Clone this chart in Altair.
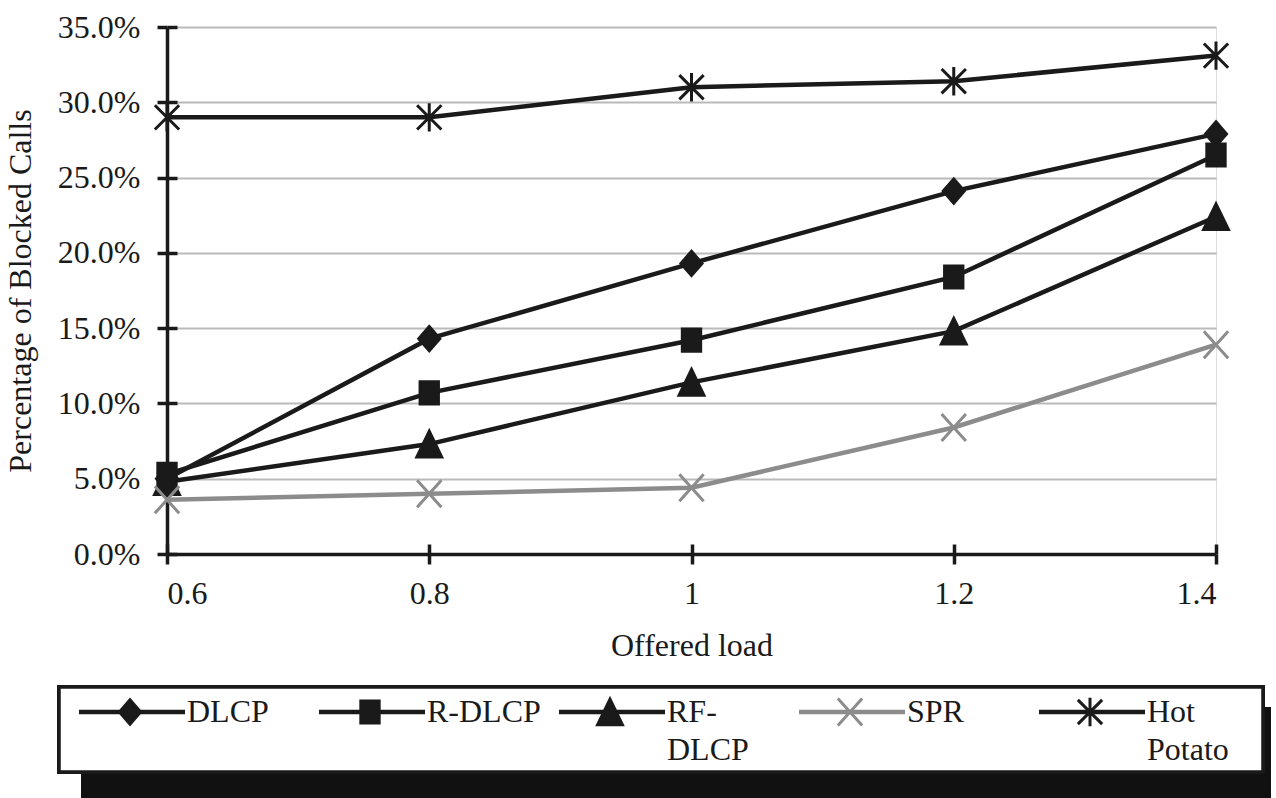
import altair as alt
import pandas as pd

# ---- data ----
loads = [0.6, 0.8, 1.0, 1.2, 1.4]
series_names = ["DLCP", "R-DLCP", "RF-DLCP", "SPR", "Hot Potato"]
legend_labels = ["DLCP", "R-DLCP", "RF-\nDLCP", "SPR", "Hot\nPotato"]
dlcp = [5.0, 14.3, 19.3, 24.1, 27.9]
r_dlcp = [5.3, 10.7, 14.2, 18.4, 26.5]
rf_dlcp = [4.8, 7.3, 11.4, 14.8, 22.4]
spr = [3.6, 4.0, 4.4, 8.4, 13.9]
hot_potato = [29.0, 29.0, 31.0, 31.4, 33.1]
y_ticks = [0, 5, 10, 15, 20, 25, 30, 35]

series_values = [dlcp, r_dlcp, rf_dlcp, spr, hot_potato]
rows = []
for name, vals in zip(series_names, series_values):
    for x, v in zip(loads, vals):
        rows.append({"series": name, "load": x, "value": v})
df = pd.DataFrame(rows)
legend_df = pd.DataFrame({"series": series_names, "label": legend_labels})

# ---- styles ----
FONT = "Liberation Serif"
FS = 32
BLACK = "#1a1a1a"
GRAY = "#8c8c8c"
colors = [BLACK, BLACK, BLACK, GRAY, BLACK]
shapes = [
    "M0,-0.9L0.78,0L0,0.9L-0.78,0Z",                      # diamond
    "M-0.68,-0.82H0.68V0.82H-0.68Z",                       # square
    "M0,-0.95L0.92,0.95H-0.92Z",                           # triangle
    "M-0.9,-1L0.9,1M-0.9,1L0.9,-1",                        # x
    "M-0.9,-0.9L0.9,0.9M-0.9,0.9L0.9,-0.9M0,-1.05L0,1.05", # star
]
color_scale = alt.Scale(domain=series_names, range=colors)
shape_scale = alt.Scale(domain=series_names, range=shapes)

W, H = 1049, 527

x_main = alt.X(
    "load:Q",
    scale=alt.Scale(domain=[0.6, 1.4], nice=False, zero=False),
    axis=alt.Axis(
        values=loads, format="~g", title="Offered load", grid=False,
        labelFont=FONT, labelFontSize=FS, labelColor=BLACK, labelPadding=14,
        titleFont=FONT, titleFontSize=FS, titleFontWeight="normal", titleColor=BLACK,
        titlePadding=21, domainColor=BLACK, domainWidth=3.5,
        tickColor=BLACK, tickWidth=3.5, tickSize=10,
    ),
)
y_main = alt.Y(
    "value:Q",
    scale=alt.Scale(domain=[0, 35], nice=False),
    axis=alt.Axis(
        values=y_ticks, labelExpr="format(datum.value, '.1f') + '%'",
        title="Percentage of Blocked Calls", grid=True, gridColor="#bababa", gridWidth=2,
        labelFont=FONT, labelFontSize=FS, labelColor=BLACK, labelPadding=17,
        titleFont=FONT, titleFontSize=FS, titleFontWeight="normal", titleColor=BLACK,
        titlePadding=20, domainColor=BLACK, domainWidth=3.5,
        tickColor=BLACK, tickWidth=3.5, tickSize=10,
    ),
)

base = alt.Chart(df)
lines = base.mark_line(strokeWidth=4.5).encode(
    x=x_main, y=y_main,
    color=alt.Color("series:N", scale=color_scale, legend=None),
    detail="series:N",
)
points = base.mark_point(opacity=1, strokeWidth=3, size=729).encode(
    x=alt.X("load:Q", axis=None),
    y=alt.Y("value:Q", axis=None),
    shape=alt.Shape("series:N", scale=shape_scale, legend=None),
    fill=alt.Fill("series:N", scale=color_scale, legend=None),
    stroke=alt.Stroke("series:N", scale=color_scale, legend=None),
)
# inner halves of the ticks (ticks cross the axis lines)
inner = base.mark_point(opacity=0).encode(
    x=alt.X("load:Q", axis=alt.Axis(orient="top", offset=-H, values=loads, labels=False,
                                    domain=False, grid=False, title=None,
                                    tickColor=BLACK, tickWidth=3.5, tickSize=10)),
    y=alt.Y("value:Q", axis=alt.Axis(orient="right", offset=-W, values=y_ticks, labels=False,
                                     domain=False, grid=False, title=None,
                                     tickColor=BLACK, tickWidth=3.5, tickSize=10)),
)
main = alt.layer(lines, points, inner).resolve_axis(x="independent", y="independent").properties(
    width=W, height=H
)

# ---- legend panel ----
PLOT_LEFT = 166
LW, LH = 1262 - PLOT_LEFT, 85
lx = alt.X("series:N", scale=alt.Scale(type="point", domain=series_names, padding=0,
                                        range=[129 - PLOT_LEFT, 1089 - PLOT_LEFT]), axis=None)
lbase = alt.Chart(legend_df)
shadow = lbase.mark_rect(color="#111111").encode(
    x=alt.value(80 - PLOT_LEFT), x2=alt.value(1270 - PLOT_LEFT),
    y=alt.value(20), y2=alt.value(120),
)
box = lbase.mark_rect(fill="white", stroke=BLACK, strokeWidth=3.5).encode(
    x=alt.value(58 - PLOT_LEFT), x2=alt.value(LW), y=alt.value(0), y2=alt.value(LH),
)
lrules = lbase.mark_rule(strokeWidth=4.5, xOffset=-51, x2Offset=55).encode(
    x=lx, x2="series:N", y=alt.value(25),
    color=alt.Color("series:N", scale=color_scale, legend=None),
)
lpoints = lbase.mark_point(opacity=1, strokeWidth=3, size=729).encode(
    x=lx, y=alt.value(25),
    shape=alt.Shape("series:N", scale=shape_scale, legend=None),
    fill=alt.Fill("series:N", scale=color_scale, legend=None),
    stroke=alt.Stroke("series:N", scale=color_scale, legend=None),
)
ltext = lbase.mark_text(align="left", baseline="alphabetic", dx=57, lineBreak="\n",
                        lineHeight=38, font=FONT, fontSize=FS, color=BLACK).encode(
    x=lx, y=alt.value(35), text="label:N",
)
legend = alt.layer(shadow, box, lrules, lpoints, ltext).properties(width=LW, height=LH)

chart = alt.vconcat(main, legend, spacing=133, bounds="flush").resolve_scale(
    x="independent", y="independent"
).properties(
    padding={"left": 3, "top": 10, "right": 0, "bottom": 0}
).configure_view(stroke=None).configure(background="white")

chart.save("out.html", embed_options={"renderer": "svg", "actions": False})
